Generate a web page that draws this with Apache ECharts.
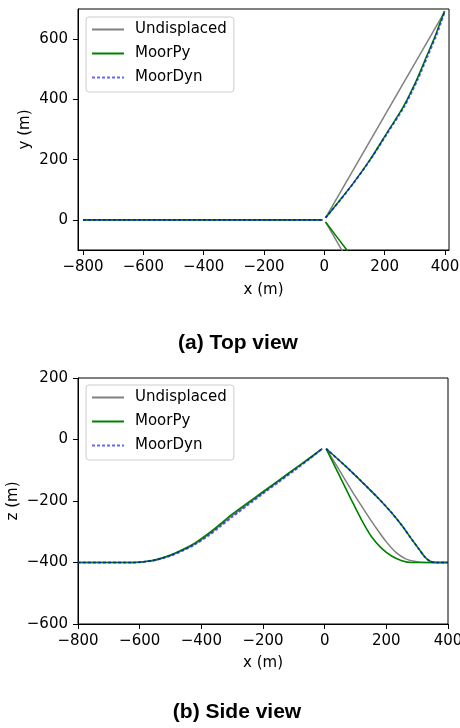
<!DOCTYPE html>
<html lang="en">
<head>
    <meta charset="UTF-8">
    <script src="https://cdn.jsdelivr.net/npm/echarts@6/dist/echarts.min.js"></script>
    <title>Mooring lines</title>
    <style>
        body { margin: 0; background: #fff; }
    </style>
</head>
<body>
<div id="main" style="width: 460px;height:728px;"></div>

<script>
    // top view (x, y)
    var topUndisp1 = [[-800, 0], [-6, 0]];
    var topUndisp2 = [[4, 7], [400, 693]];
    var topUndisp3 = [[4, -7], [400, -693]];
    var topMoorPy1 = [[-800, 0], [-6, 0]];
    var topMoorPy2 = [[4, 7], [52, 66], [96, 122], [151, 199], [207, 288], [262, 376], [306, 465], [339, 543], [367, 609], [383, 653], [398, 693]];
    var topMoorPy3 = [[4, -7], [72, -97], [160, -213]];
    var topMoorDyn1 = [[-800, 0], [-6, 0]];
    var topMoorDyn2 = [[4, 7], [53, 66], [97, 122], [152, 199], [209, 288], [265, 376], [309, 465], [342, 543], [370, 609], [386, 653], [400, 693]];

    // side view (x, z)
    var sideUndisp1 = [[-800, -400], [-620, -400], [-580, -397], [-540, -390], [-500, -377], [-460, -360], [-420, -339], [-380, -312], [-340, -280], [-300, -248], [-250, -210], [-200, -173], [-150, -136], [-100, -99], [-50, -62], [-8, -30]];
    var sideUndisp2 = [[5, -30], [34, -77], [67, -132], [100, -186], [135, -240], [170, -292], [200, -333], [232, -368], [263, -388], [295, -397], [325, -400], [400, -400]];
    var sideMoorPy1 = [[-800, -400], [-620, -400], [-580, -397], [-540, -389], [-500, -376], [-460, -358], [-420, -336], [-380, -308], [-340, -276], [-300, -243], [-250, -206], [-200, -170], [-150, -134], [-100, -97], [-50, -61], [-8, -30]];
    var sideMoorPy2 = [[5, -30], [66, -85], [120, -137], [174, -191], [217, -238], [250, -279], [282, -324], [304, -354], [325, -382], [342, -396], [360, -400], [400, -400]];
    var sideMoorPy3 = [[5, -30], [28, -77], [55, -132], [87, -197], [120, -262], [152, -316], [185, -354], [217, -379], [250, -394], [282, -400], [400, -400]];
    var sideMoorDyn1 = [[-800, -400], [-620, -400], [-580, -397], [-540, -390], [-500, -378], [-460, -361], [-420, -341], [-380, -315], [-340, -284], [-300, -252], [-250, -214], [-200, -176], [-150, -139], [-100, -102], [-50, -64], [-8, -30]];
    var sideMoorDyn2 = sideMoorPy2;

    var xTicks = [-800, -600, -400, -200, 0, 200, 400];
    var topYTicks = [0, 200, 400, 600];
    var sideYTicks = [-600, -400, -200, 0, 200];
    var names = ['Undisplaced', 'MoorPy', 'MoorDyn'];

    var font = 'DejaVu Sans';
    function fmt(v) {
        return v < 0 ? '\u2212' + Math.abs(v) : String(v);
    }

    function axis(min, max, ticks, gridIndex, name, gap) {
        return {
            type: 'value',
            gridIndex: gridIndex,
            min: min,
            max: max,
            name: name,
            nameLocation: 'middle',
            nameGap: gap,
            nameMoveOverlap: false,
            nameTextStyle: { fontFamily: font, fontSize: 15, color: '#000' },
            axisLine: { show: true, onZero: false, lineStyle: { color: '#000', width: 1 } },
            axisTick: { show: true, length: 5, customValues: ticks, lineStyle: { color: '#000', width: 1 } },
            axisLabel: { customValues: ticks, formatter: fmt, fontFamily: font, fontSize: 15, color: '#000', margin: 10 },
            splitLine: { show: false }
        };
    }

    function line(name, data, idx) {
        var style = { color: '#808080', width: 1.5 };
        if (name === 'MoorPy') style = { color: '#008000', width: 1.6 };
        if (name === 'MoorDyn') style = { color: 'rgba(0,0,255,0.6)', width: 2, type: [3, 2] };
        return {
            name: name,
            type: 'line',
            xAxisIndex: idx,
            yAxisIndex: idx,
            data: data,
            symbol: 'none',
            showSymbol: false,
            smooth: 0.25,
            clip: true,
            color: style.color,
            lineStyle: style
        };
    }

    function legend(top) {
        return {
            data: names,
            orient: 'vertical',
            left: 86,
            top: top,
            padding: [5, 7, 7, 5],
            itemWidth: 32,
            itemHeight: 14,
            itemGap: 9,
            itemStyle: { opacity: 0 },
            backgroundColor: 'rgba(255,255,255,0.8)',
            borderColor: '#cccccc',
            borderWidth: 1,
            borderRadius: 3,
            textStyle: { fontFamily: font, fontSize: 15, color: '#000', padding: [0, 0, 0, 6] }
        };
    }

    var chart = echarts.init(document.getElementById('main'));
    var option = {
        animation: false,
        title: [
            { text: '(a) Top view', left: 233, top: 328, textAlign: 'center',
              textStyle: { fontFamily: 'Liberation Sans', fontWeight: 'bold', fontSize: 21, color: '#000' } },
            { text: '(b) Side view', left: 232, top: 697, textAlign: 'center',
              textStyle: { fontFamily: 'Liberation Sans', fontWeight: 'bold', fontSize: 21, color: '#000' } }
        ],
        legend: [legend(17), legend(385)],
        grid: [
            { left: 78, top: 9, width: 371, height: 241, show: true, borderColor: '#000', borderWidth: 1,
              containLabel: false, outerBoundsMode: 'none' },
            { left: 78, top: 378, width: 370, height: 246, show: true, borderColor: '#000', borderWidth: 1,
              containLabel: false, outerBoundsMode: 'none' }
        ],
        xAxis: [
            axis(-816.6, 413.2, xTicks, 0, 'x (m)', 33),
            axis(-800, 400, xTicks, 1, 'x (m)', 32)
        ],
        yAxis: [
            axis(-100, 700, topYTicks, 0, 'y (m)', 45),
            axis(-600, 200, sideYTicks, 1, 'z (m)', 57)
        ],
        series: [
            line('Undisplaced', topUndisp1, 0),
            line('Undisplaced', topUndisp2, 0),
            line('Undisplaced', topUndisp3, 0),
            line('MoorPy', topMoorPy1, 0),
            line('MoorPy', topMoorPy2, 0),
            line('MoorPy', topMoorPy3, 0),
            line('MoorDyn', topMoorDyn1, 0),
            line('MoorDyn', topMoorDyn2, 0),
            line('Undisplaced', sideUndisp1, 1),
            line('Undisplaced', sideUndisp2, 1),
            line('MoorPy', sideMoorPy1, 1),
            line('MoorPy', sideMoorPy2, 1),
            line('MoorPy', sideMoorPy3, 1),
            line('MoorDyn', sideMoorDyn1, 1),
            line('MoorDyn', sideMoorDyn2, 1)
        ]
    };
    chart.setOption(option);
</script>
</body>
</html>
